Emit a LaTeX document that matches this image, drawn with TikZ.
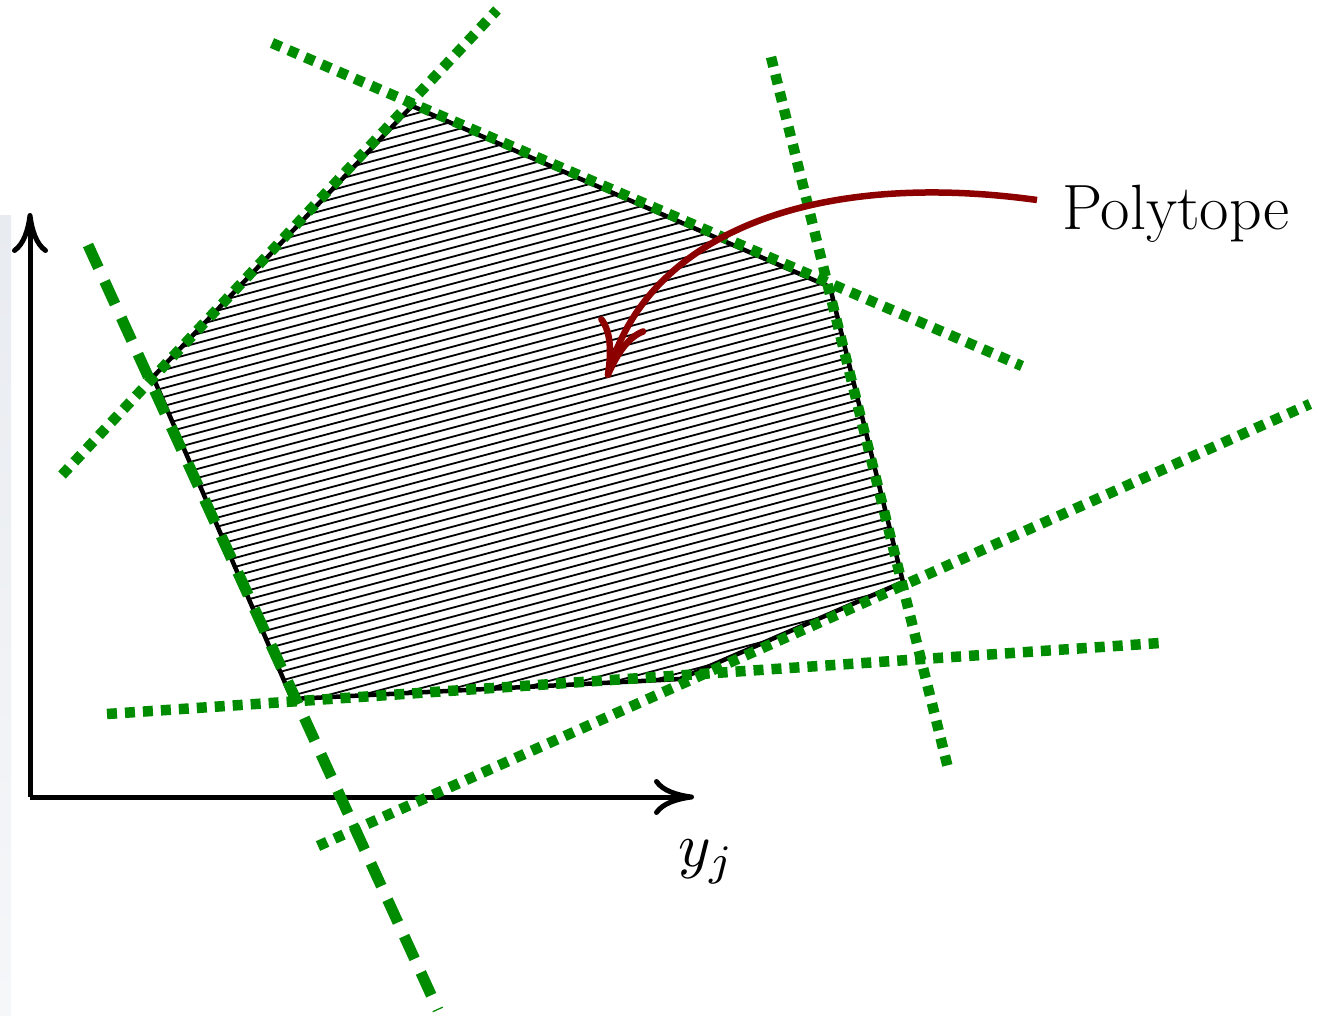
\documentclass[tikz,border=0pt]{standalone}
\usepackage{fontspec}
\usepackage{graphicx}
\usetikzlibrary{arrows.meta}
\definecolor{gline}{RGB}{0,140,0}
\definecolor{darr}{RGB}{140,0,0}
\definecolor{strip}{RGB}{232,235,240}
\definecolor{striplo}{RGB}{246,247,249}
\tikzset{
  dotline/.style={gline, line width=10.5pt, dash pattern=on 10pt off 8pt},
  dashline/.style={gline, line width=11pt, dash pattern=on 25pt off 15pt},
  axis/.style={black, line width=5pt, -{To[length=40pt,width=36pt,line width=5pt]}},
  edge/.style={black, line width=4.5pt, line join=round},
  hatch/.style={black, line width=1.8pt},
  lbl/.style={inner sep=0pt, font=\fontsize{64}{76}\selectfont},
  callout/.style={darr, line width=6.5pt, -{To[length=58pt,width=50pt,line width=6.5pt]}}
}
\begin{document}
\begin{tikzpicture}[x=1pt,y=-1pt]
\useasboundingbox (0,0) rectangle (1330,1015);
\shade[top color=strip, bottom color=striplo] (0,215) rectangle (11,1015);
% vertices
\coordinate (A) at (153,377);
\coordinate (B) at (412,106);
\coordinate (C) at (830,287);
\coordinate (D) at (903,582);
\coordinate (E) at (680,679);
\coordinate (F) at (292,699);
% hatching
\begin{scope}
\clip (A) -- (B) -- (C) -- (D) -- (E) -- (F) -- cycle;
\foreach \c in {90,99,...,1000}
  \draw[hatch] (100,\c) -- (960,\c-230);
\end{scope}
\draw[edge] (A) -- (B) -- (C) -- (D) -- (E) -- (F) -- cycle;
% axes
\coordinate (O) at (30,797);
\coordinate (Ytip) at (30,213);
\coordinate (Xtip) at (694,797);
\draw[axis] (O) -- (Ytip);
\draw[axis] (O) -- (Xtip);
\node[inner sep=0pt, anchor=base west] (yj) at (678,866) {\scalebox{6.2}{$y_j$}};
% green supporting lines
\coordinate (l1a) at (62,475);   \coordinate (l1b) at (497,10);
\coordinate (l2a) at (272,43);   \coordinate (l2b) at (1022,366);
\coordinate (l3a) at (771,57);   \coordinate (l3b) at (948,768);
\coordinate (l4a) at (318,846);  \coordinate (l4b) at (1310,404);
\coordinate (l5a) at (107,714);  \coordinate (l5b) at (1160,643);
\coordinate (l6a) at (88,245);   \coordinate (l6b) at (438,1010);
\draw[dotline] (l1a) -- (l1b);
\draw[dotline] (l2a) -- (l2b);
\draw[dotline] (l3a) -- (l3b);
\draw[dotline] (l4a) -- (l4b);
\draw[dotline] (l5a) -- (l5b);
\draw[dashline] (l6a) -- (l6b);
% label and callout
\node[lbl, anchor=base west] (poly) at (1062,229) {Polytope};
\coordinate (cstart) at (1037,200);
\coordinate (ctip) at (607,378);
\draw[callout] (cstart) .. controls (820,170) and (650,230) .. (ctip);
\end{tikzpicture}
\end{document}
